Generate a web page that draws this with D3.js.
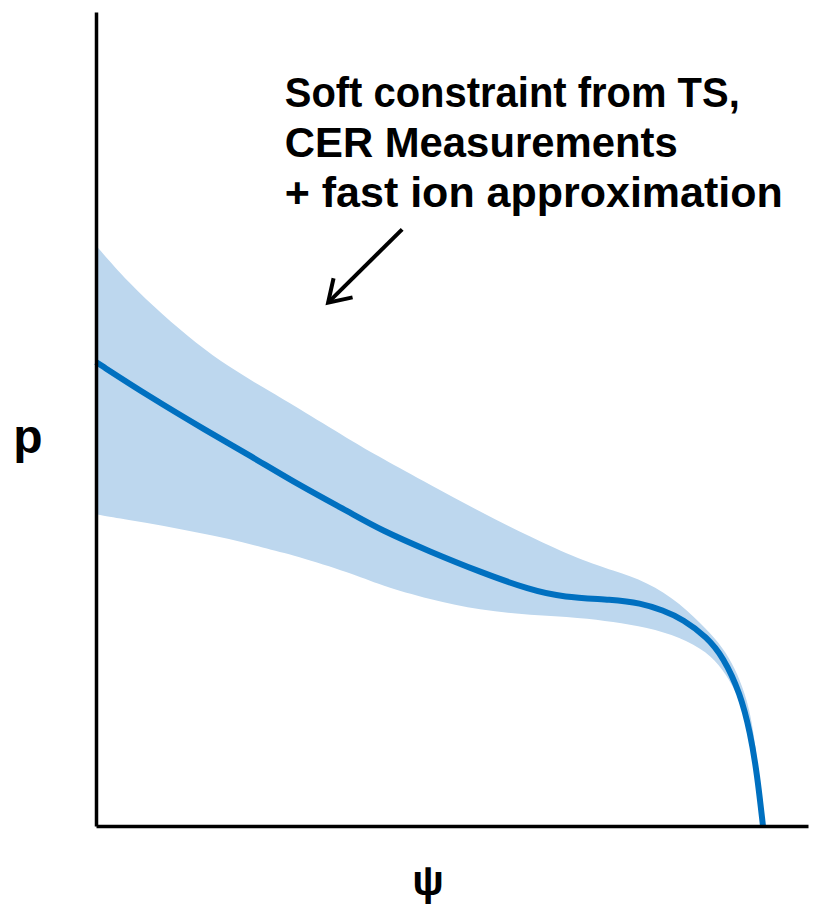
<!DOCTYPE html>
<html>
<head>
<meta charset="utf-8">
<script src="https://cdn.jsdelivr.net/npm/d3@7"></script>
<style>
  html, body { margin: 0; padding: 0; background: #fff; }
  svg { display: block; }
</style>
</head>
<body>
<div id="chart"></div>
<script>
// Pressure profile p(psi) with its uncertainty band (normalised units)
const psiLine = [0, 0.081, 0.165, 0.231, 0.306, 0.381, 0.426, 0.501, 0.576, 0.651,
  0.700, 0.775, 0.816, 0.850, 0.880, 0.916, 0.940, 0.966, 0.981, 0.991, 1.0];
const pLine = [0.570, 0.527, 0.486, 0.455, 0.418, 0.385, 0.364, 0.337, 0.312, 0.290,
  0.281, 0.278, 0.274, 0.265, 0.254, 0.232, 0.208, 0.163, 0.114, 0.065, 0];

const psiBand = [0, 0.049, 0.100, 0.150, 0.199, 0.250, 0.300, 0.381, 0.426, 0.501, 0.576,
  0.651, 0.726, 0.775, 0.826, 0.876, 0.916, 0.940, 0.958, 0.973, 0.984, 0.993];
const pUpper = [0.713, 0.667, 0.628, 0.593, 0.564, 0.539, 0.515, 0.474, 0.453, 0.419, 0.386,
  0.355, 0.327, 0.314, 0.300, 0.274, 0.241, 0.219, 0.194, 0.163, 0.128, 0.069];
const pLower = [0.383, 0.376, 0.369, 0.361, 0.353, 0.342, 0.332, 0.311, 0.296, 0.278, 0.265,
  0.259, 0.256, 0.251, 0.244, 0.232, 0.214, 0.192, 0.167, 0.140, 0.100, 0.052];

const noteLines = ['Soft constraint from TS,', 'CER Measurements', '+ fast ion approximation'];
const noteWidths = [455, 393, 498];
// annotation anchor and arrow, in data units [psi, p]
const noteAt = [0.283, 0.883];
const arrowFrom = [0.459, 0.733];
const arrowTo = [0.348, 0.643];

const W = 821, H = 906;
const margin = { left: 96, right: 13, top: 12, bottom: 80 };
const xMax = 1.0675;

const svg = d3.select('#chart').append('svg')
  .attr('width', W).attr('height', H);

const x = d3.scaleLinear().domain([0, xMax]).range([margin.left, W - margin.right]);
const y = d3.scaleLinear().domain([0, 1]).range([H - margin.bottom, margin.top]);

const lineColor = '#0070c0';
const bandColor = '#bdd7ee';

// Uncertainty band
const band = psiBand.map((d, i) => ({ psi: d, lo: pLower[i], hi: pUpper[i] }));
svg.append('path')
  .datum(band)
  .attr('d', d3.area()
    .x(d => x(d.psi))
    .y0(d => y(d.lo))
    .y1(d => y(d.hi))
    .curve(d3.curveBasis))
  .attr('fill', bandColor);

// Central profile
const prof = psiLine.map((d, i) => ({ psi: d, p: pLine[i] }));
svg.append('path')
  .datum(prof)
  .attr('d', d3.line()
    .x(d => x(d.psi))
    .y(d => y(d.p))
    .curve(d3.curveBasis))
  .attr('fill', 'none')
  .attr('stroke', lineColor)
  .attr('stroke-width', 6);

// Axes, no ticks
const yAxis = svg.append('g')
  .attr('transform', `translate(${margin.left},0)`)
  .call(d3.axisLeft(y).tickValues([]).tickSizeOuter(0));
const xAxis = svg.append('g')
  .attr('transform', `translate(0,${H - margin.bottom})`)
  .call(d3.axisBottom(x).tickValues([]).tickSizeOuter(0));
[yAxis, xAxis].forEach(g => g.select('.domain')
  .attr('stroke', '#000').attr('stroke-width', 3.5));

const font = '"Liberation Sans", Arial, sans-serif';

// Axis labels
svg.append('text')
  .attr('x', 28).attr('y', 453)
  .attr('text-anchor', 'middle')
  .style('font-family', font).style('font-weight', 'bold').style('font-size', '48px')
  .text('p');
svg.append('text')
  .attr('x', 428).attr('y', 895)
  .attr('text-anchor', 'middle')
  .style('font-family', font).style('font-weight', 'bold').style('font-size', '42px')
  .text('ψ');

// Annotation
noteLines.forEach((t, i) => {
  svg.append('text')
    .attr('x', x(noteAt[0]))
    .attr('y', y(noteAt[1]) + i * 50)
    .attr('textLength', noteWidths[i])
    .attr('lengthAdjust', 'spacingAndGlyphs')
    .style('font-family', font).style('font-weight', 'bold').style('font-size', '42px')
    .text(t);
});

// Arrow pointing at the band
const ax0 = x(arrowFrom[0]), ay0 = y(arrowFrom[1]);
const ax1 = x(arrowTo[0]), ay1 = y(arrowTo[1]);
const ang = Math.atan2(ay1 - ay0, ax1 - ax0);
const head = 25, spread = Math.PI / 5.5;
svg.append('line')
  .attr('x1', ax0).attr('y1', ay0).attr('x2', ax1).attr('y2', ay1)
  .attr('stroke', '#000').attr('stroke-width', 4);
svg.append('path')
  .attr('d', d3.line()([
    [ax1 - head * Math.cos(ang - spread), ay1 - head * Math.sin(ang - spread)],
    [ax1, ay1],
    [ax1 - head * Math.cos(ang + spread), ay1 - head * Math.sin(ang + spread)]
  ]))
  .attr('fill', 'none')
  .attr('stroke', '#000')
  .attr('stroke-width', 4)
  .attr('stroke-linejoin', 'miter');
</script>
</body>
</html>
